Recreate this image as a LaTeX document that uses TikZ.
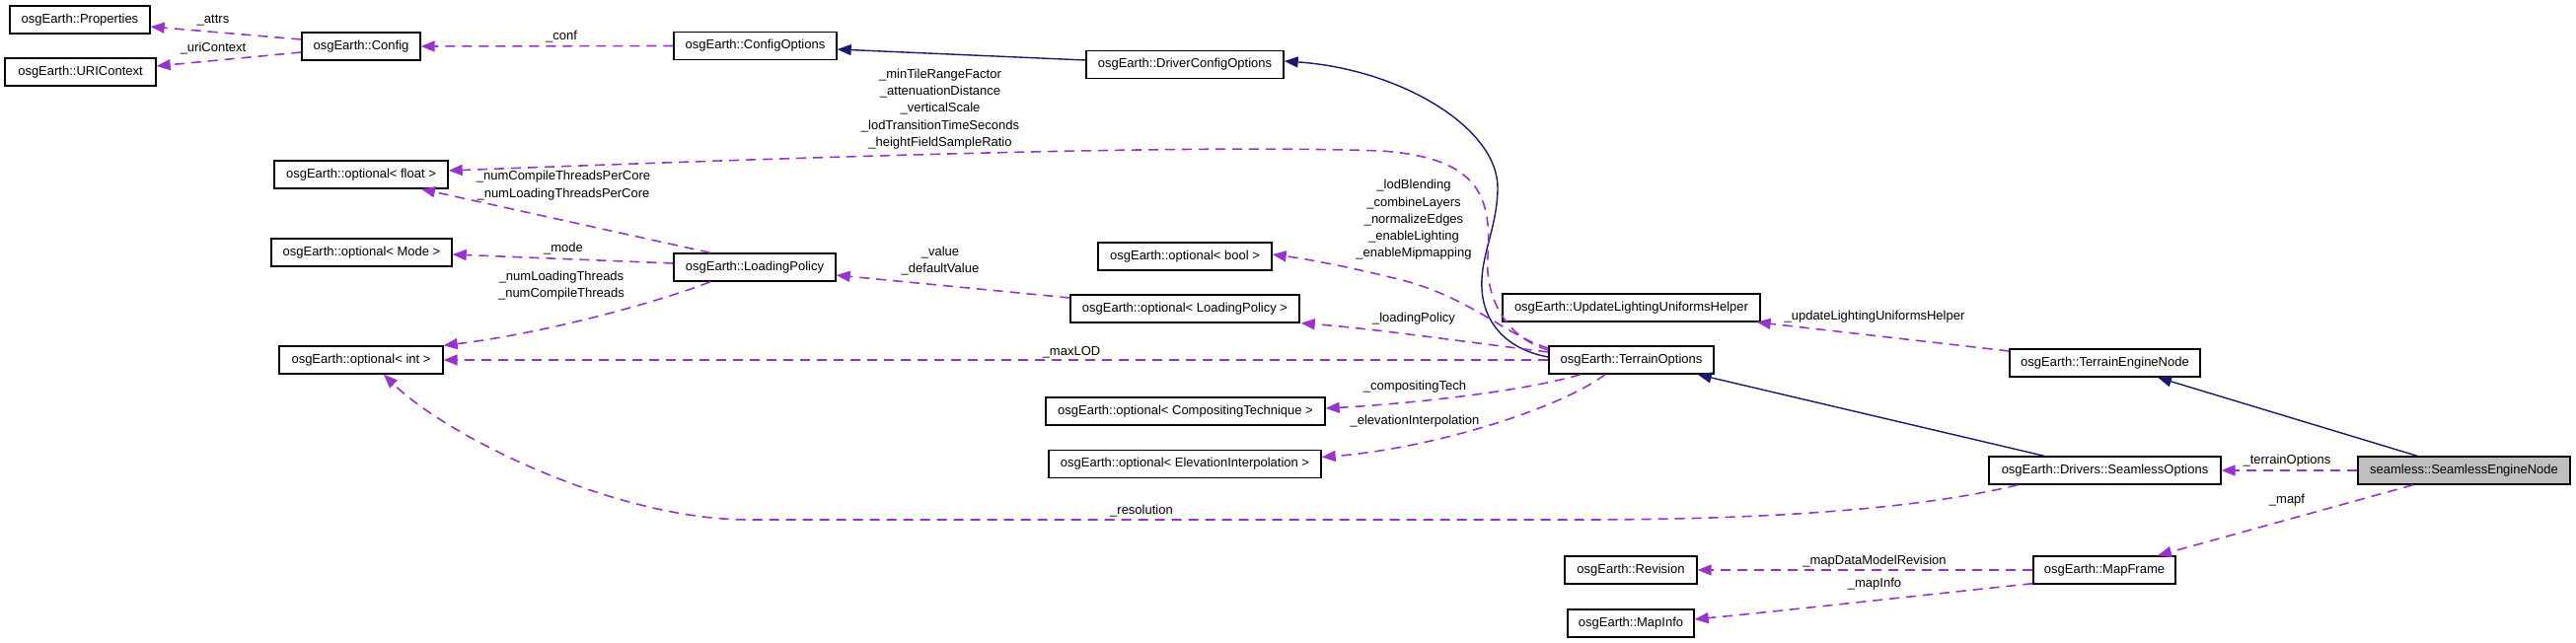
\documentclass[tikz,border=0pt]{standalone}
\usepackage{fontspec}
\setmainfont{Liberation Sans}
\usetikzlibrary{arrows.meta}
\definecolor{dpurple}{HTML}{9A32CD}
\definecolor{dnavy}{HTML}{191970}
\definecolor{selgray}{HTML}{BFBFBF}
\newcommand{\lblfont}{\fontsize{13pt}{17.3pt}\selectfont}
\begin{document}
\begin{tikzpicture}[x=1pt,y=-1pt,
  box/.style={draw=black, line width=1.4pt, fill=white, minimum height=28pt, inner sep=0pt, font=\lblfont},
  usage/.style={draw=dpurple, line width=1.6pt, dash pattern=on 10pt off 7pt, -{Triangle[length=14pt,width=11pt]}},
  inherit/.style={draw=dnavy, line width=1.4pt, -{Triangle[length=14pt,width=11pt]}},
  elabel/.style={font=\lblfont, align=center, inner sep=0pt}]
\useasboundingbox (0,0) rectangle (2611,652);
\fill[white] (0,0) rectangle (2611,652);

% nodes
\node[box, minimum width=142pt] (prop) at (81,20) {osgEarth::Properties};
\node[box, minimum width=153pt] (uri) at (81.5,73) {osgEarth::URIContext};
\node[box, minimum width=120pt] (config) at (366,47) {osgEarth::Config};
\node[box, minimum width=165pt] (confopt) at (765.5,46.5) {osgEarth::ConfigOptions};
\node[box, minimum width=200pt] (drvopt) at (1201,65.5) {osgEarth::DriverConfigOptions};
\node[box, minimum width=176pt] (optfloat) at (366,177) {osgEarth::optional< float >};
\node[box, minimum width=183pt] (optmode) at (366.5,256) {osgEarth::optional< Mode >};
\node[box, minimum width=164pt] (loadpol) at (765,271) {osgEarth::LoadingPolicy};
\node[box, minimum width=166pt] (optint) at (366,365) {osgEarth::optional< int >};
\node[box, minimum width=176pt] (optbool) at (1201,260) {osgEarth::optional< bool >};
\node[box, minimum width=232pt] (optlp) at (1201,313) {osgEarth::optional< LoadingPolicy >};
\node[box, minimum width=283pt] (optcomp) at (1201.5,417) {osgEarth::optional< CompositingTechnique >};
\node[box, minimum width=276pt] (optelev) at (1201,470.5) {osgEarth::optional< ElevationInterpolation >};
\node[box, minimum width=167pt] (terrainopt) at (1653.5,365) {osgEarth::TerrainOptions};
\node[box, minimum width=261pt] (updlight) at (1653.5,312) {osgEarth::UpdateLightingUniformsHelper};
\node[box, minimum width=134pt] (revision) at (1653,578) {osgEarth::Revision};
\node[box, minimum width=128pt] (mapinfo) at (1653,632) {osgEarth::MapInfo};
\node[box, minimum width=193pt] (terraineng) at (2133.5,368) {osgEarth::TerrainEngineNode};
\node[box, minimum width=235pt] (seamopt) at (2133.5,477) {osgEarth::Drivers::SeamlessOptions};
\node[box, minimum width=215pt, fill=selgray] (seameng) at (2497.5,477) {seamless::SeamlessEngineNode};
\node[box, minimum width=144pt] (mapframe) at (2133,578) {osgEarth::MapFrame};

% connectors
\draw[usage] ([yshift=7pt]config.west) -- ([yshift=-7pt]prop.east);
\draw[usage] ([yshift=-6pt]config.west) -- ([yshift=6pt]uri.east);
\draw[usage] (confopt.west) -- (config.east);
\draw[inherit] ([yshift=4.5pt]drvopt.west) -- ([yshift=-3.5pt]confopt.east);
\draw[inherit] ([yshift=3pt]terrainopt.west) .. controls (1530,355) and (1504,330) .. (1502,293)
   .. controls (1500,260) and (1518,230) .. (1518,190)
   .. controls (1518,130) and (1420,70) .. ([yshift=3.5pt]drvopt.east);
\draw[usage] ([yshift=10pt]terrainopt.west) .. controls (1525,342) and (1505,300) .. (1508,260)
   .. controls (1512,200) and (1500,160) .. (1400,153)
   .. controls (1200,146) and (800,160) .. ([yshift=4pt]optfloat.east);
\draw[usage] ([yshift=12pt]terrainopt.west) .. controls (1525,340) and (1490,300) .. (1413,282)
   .. controls (1360,269) and (1320,262) .. ([yshift=2pt]optbool.east);
\draw[usage] ([yshift=8pt]terrainopt.west) .. controls (1480,346) and (1390,333) .. ([xshift=1pt]optlp.south east);
\draw[usage] (terrainopt.west) -- (optint.east);
\draw[usage] ([xshift=-51.5pt]terrainopt.south) .. controls (1540,398) and (1420,410) .. ([yshift=3pt]optcomp.east);
\draw[usage] ([xshift=-26.5pt]terrainopt.south) .. controls (1580,415) and (1450,455) .. ([yshift=7pt]optelev.east);
\draw[inherit] ([xshift=-61.5pt]seamopt.north) -- ([xshift=-17pt]terrainopt.south east);
\draw[inherit] ([xshift=-47.5pt]seameng.north) -- ([xshift=53.5pt]terraineng.south);
\draw[usage] ([yshift=12pt]terraineng.west) -- ([xshift=-4pt]updlight.south east);
\draw[usage] (seameng.west) -- (seamopt.east);
\draw[usage] ([xshift=-51.5pt]seameng.south) -- ([xshift=54pt]mapframe.north);
\draw[usage] (mapframe.west) -- (revision.east);
\draw[usage] ([yshift=1pt]mapframe.south west) .. controls (1980,600) and (1820,618) .. ([yshift=4pt]mapinfo.east);
\draw[usage] ([xshift=30pt]seamopt.south west) .. controls (1950,515) and (1800,527) .. (1600,527)
   -- (760,527) .. controls (620,527) and (450,440) .. ([xshift=23pt]optint.south);
\draw[usage] ([yshift=11pt]optlp.west) -- ([yshift=-8pt]loadpol.east);
\draw[usage] ([xshift=-45pt]loadpol.north) -- ([xshift=61pt]optfloat.south);
\draw[usage] ([yshift=4pt]loadpol.west) -- ([yshift=-2pt]optmode.east);
\draw[usage] ([xshift=-45pt]loadpol.south) .. controls (680,302) and (560,337) .. (optint.north east);

% labels
\node[elabel] (lattrs) at (216,21) {\_attrs};
\node[elabel] (luri) at (216,49) {\_uriContext};
\node[elabel] (lconf) at (569,37) {\_conf};
\node[elabel] (lfloat) at (953,110.5) {\_minTileRangeFactor\\\_attenuationDistance\\\_verticalScale\\\_lodTransitionTimeSeconds\\\_heightFieldSampleRatio};
\node[elabel] (lthreadscore) at (571,188) {\_numCompileThreadsPerCore\\\_numLoadingThreadsPerCore};
\node[elabel] (lmode) at (571,252) {\_mode};
\node[elabel] (lthreads) at (569,289.5) {\_numLoadingThreads\\\_numCompileThreads};
\node[elabel] (lvalue) at (953,264.5) {\_value\\\_defaultValue};
\node[elabel] (lmaxlod) at (1086,357) {\_maxLOD};
\node[elabel] (lbool) at (1433,223) {\_lodBlending\\\_combineLayers\\\_normalizeEdges\\\_enableLighting\\\_enableMipmapping};
\node[elabel] (llp) at (1433,323) {\_loadingPolicy};
\node[elabel] (lcomp) at (1434,392) {\_compositingTech};
\node[elabel] (lelev) at (1434,427) {\_elevationInterpolation};
\node[elabel] (lupd) at (1900,321) {\_updateLightingUniformsHelper};
\node[elabel] (lterr) at (2318,467) {\_terrainOptions};
\node[elabel] (lmapf) at (2318,507) {\_mapf};
\node[elabel] (lrev) at (1900,569) {\_mapDataModelRevision};
\node[elabel] (lmapinfo) at (1900,592) {\_mapInfo};
\node[elabel] (lres) at (1157,518) {\_resolution};
\end{tikzpicture}
\end{document}
